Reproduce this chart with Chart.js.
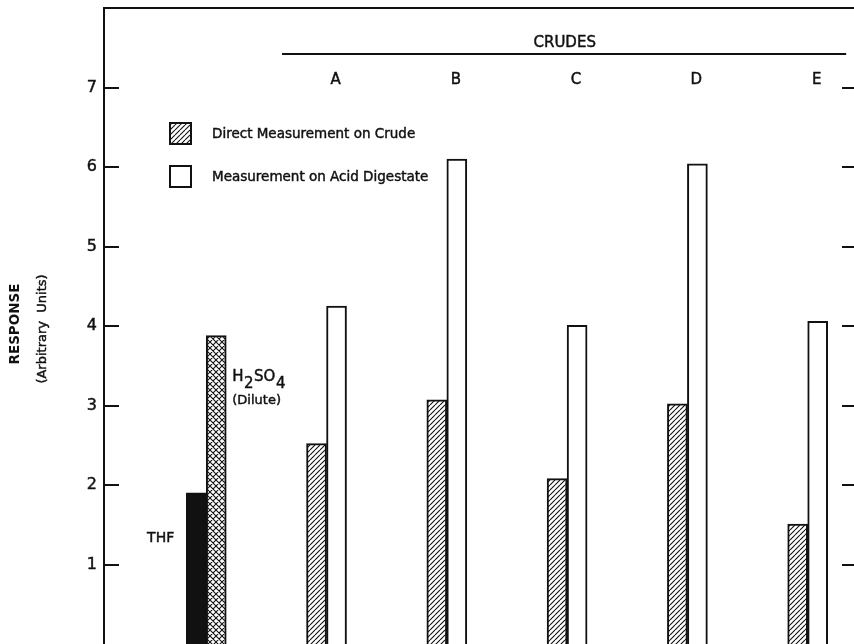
<!DOCTYPE html>
<html>
<head>
<meta charset="utf-8">
<script src="https://cdn.jsdelivr.net/npm/chart.js@4.4.1/dist/chart.umd.min.js"></script>
<style>
  html, body { margin: 0; padding: 0; background: #fff; overflow: hidden; }
  #wrap { width: 870px; height: 644px; }
</style>
</head>
<body>
<div id="wrap"><canvas id="chart" width="870" height="644"></canvas></div>
<script>
// Reference solvents (left pair) and the five crudes
const solvents = ['THF', 'H2SO4'];
const solventResponse = [1.90, 3.88];
const crudes = ['A', 'B', 'C', 'D', 'E'];
const directCrude = [2.52, 3.07, 2.08, 3.02, 1.51];
const acidDigestate = [4.25, 6.10, 4.01, 6.04, 4.06];
const yTickValues = [1, 2, 3, 4, 5, 6, 7];
const legendLabels = ['Direct Measurement on Crude', 'Measurement on Acid Digestate'];
const groupTitle = 'CRUDES';

const INK = '#111';
const FONT = 'DejaVu Sans';
const TEXT_STROKE = 0.45;

// group positions on the x axis: solvent pair at 0, crudes at 1..5
const groupX = [0].concat(crudes.map((_, i) => i + 1));

function series(fn) {
  return groupX.map((x, j) => ({ x: x, y: fn(j) }));
}

function makePattern(cross) {
  const p = cross ? 6 : 5;
  const c = document.createElement('canvas');
  c.width = p; c.height = p;
  const g = c.getContext('2d');
  g.fillStyle = '#fff';
  g.fillRect(0, 0, p, p);
  g.strokeStyle = INK;
  g.lineWidth = 1.1;
  g.beginPath();
  for (const o of [-p, 0, p]) { g.moveTo(o, p); g.lineTo(o + p, 0); }
  if (cross) {
    for (const o of [-p, 0, p]) { g.moveTo(o, 0); g.lineTo(o + p, p); }
  }
  g.stroke();
  return g.createPattern(c, 'repeat');
}

const hatch = makePattern(false);
const crossHatch = makePattern(true);

// filled text with a hairline outline for a slightly heavier stroke
function ink(ctx, s, x, y) {
  ctx.fillText(s, x, y);
  ctx.save();
  ctx.lineWidth = TEXT_STROKE;
  ctx.strokeText(s, x, y);
  ctx.restore();
}

const decor = {
  id: 'decor',
  afterDraw(chart) {
    const { ctx, chartArea: a, scales } = chart;
    const xs = scales.x, ys = scales.y;
    ctx.save();
    ctx.strokeStyle = INK;
    ctx.fillStyle = INK;

    // top frame line
    ctx.lineWidth = 2;
    ctx.beginPath();
    ctx.moveTo(a.left - 1, a.top);
    ctx.lineTo(chart.width, a.top);
    ctx.stroke();

    // inward tick marks on both vertical axes
    ys.ticks.forEach(t => {
      if (!yTickValues.includes(t.value)) return;
      const y = Math.round(ys.getPixelForValue(t.value));
      ctx.beginPath();
      ctx.moveTo(a.left, y); ctx.lineTo(a.left + 15, y);
      ctx.moveTo(a.right - 15, y); ctx.lineTo(a.right, y);
      ctx.stroke();
    });

    // bracket over the crudes
    const by = a.top + 46;
    ctx.beginPath();
    ctx.moveTo(xs.getPixelForValue(0.63), by);
    ctx.lineTo(xs.getPixelForValue(5.32), by);
    ctx.stroke();
    ctx.textAlign = 'center';
    ctx.textBaseline = 'middle';
    ctx.font = '15px "' + FONT + '"';
    ink(ctx, groupTitle, xs.getPixelForValue(2.98), a.top + 35);
    crudes.forEach((c, i) => {
      ink(ctx, c, xs.getPixelForValue(groupX[i + 1]) + 9, a.top + 72);
    });

    // legend
    const lx = a.left + 66, ly = a.top + 115;
    const swatches = [hatch, '#fff'];
    ctx.font = '13.5px "' + FONT + '"';
    ctx.textAlign = 'left';
    legendLabels.forEach((lab, i) => {
      const y = ly + i * 43;
      ctx.fillStyle = swatches[i];
      ctx.fillRect(lx, y, 21, 21);
      ctx.lineWidth = 2;
      ctx.strokeRect(lx, y, 21, 21);
      ctx.fillStyle = INK;
      ink(ctx, lab, lx + 42, y + 11);
    });

    // solvent labels beside their bars
    const thfBar = chart.getDatasetMeta(0).data[0];
    const acidBar = chart.getDatasetMeta(1).data[0];
    ctx.font = '14px "' + FONT + '"';
    ctx.textAlign = 'right';
    ink(ctx, solvents[0], thfBar.x - thfBar.width / 2 - 12,
      ys.getPixelForValue(solventResponse[0] * 0.7));

    ctx.textAlign = 'left';
    ctx.font = '15px "' + FONT + '"';
    let x = acidBar.x + acidBar.width / 2 + 6;
    const hy = ys.getPixelForValue(solventResponse[1] * 0.865);
    // H2SO4 written with lowered digits
    const parts = [['H', 0], ['2', 7], ['SO', 0], ['4', 7]];
    parts.forEach(([s, dy]) => {
      ink(ctx, s, x, hy + dy);
      x += ctx.measureText(s).width + 0.5;
    });
    ctx.font = '13px "' + FONT + '"';
    ink(ctx, '(Dilute)', acidBar.x + acidBar.width / 2 + 6, hy + 23);

    // vertical axis title
    const cy = (a.top + a.bottom) / 2;
    ctx.textAlign = 'center';
    ctx.save();
    ctx.translate(15, cy - 2);
    ctx.rotate(-Math.PI / 2);
    ctx.font = 'bold 13.5px "' + FONT + '"';
    ctx.fillText('RESPONSE', 0, 0);
    ctx.restore();
    ctx.save();
    ctx.translate(43, cy + 3);
    ctx.rotate(-Math.PI / 2);
    ctx.font = '13px "' + FONT + '"';
    ink(ctx, '(Arbitrary  Units)', 0, 0);
    ctx.restore();

    ctx.restore();
  }
};

new Chart(document.getElementById('chart').getContext('2d'), {
  type: 'bar',
  data: {
    datasets: [
      { label: solvents[0], data: series(j => j === 0 ? solventResponse[0] : null),
        backgroundColor: INK, borderColor: INK, borderWidth: 2 },
      { label: solvents[1], data: series(j => j === 0 ? solventResponse[1] : null),
        backgroundColor: crossHatch, borderColor: INK, borderWidth: 2 },
      { label: legendLabels[0], data: series(j => j === 0 ? null : directCrude[j - 1]),
        backgroundColor: hatch, borderColor: INK, borderWidth: 2 },
      { label: legendLabels[1], data: series(j => j === 0 ? null : acidDigestate[j - 1]),
        backgroundColor: '#fff', borderColor: INK, borderWidth: 2 }
    ]
  },
  options: {
    responsive: false,
    animation: false,
    devicePixelRatio: 1,
    layout: { padding: { top: 8, left: 0, right: 0, bottom: 0 } },
    datasets: { bar: { skipNull: true, barThickness: 20, grouped: true } },
    plugins: { legend: { display: false }, tooltip: { enabled: false } },
    scales: {
      x: {
        type: 'linear', display: false, offset: false, min: -0.85, max: 5.41,
        grid: { offset: false },
        ticks: { stepSize: 1, includeBounds: false }
      },
      y: {
        position: 'left', min: 0, max: 8,
        ticks: {
          stepSize: 1, padding: 7, color: INK,
          textStrokeColor: INK, textStrokeWidth: TEXT_STROKE,
          font: { family: FONT, size: 16 },
          callback: v => yTickValues.includes(v) ? String(v) : null
        },
        grid: { display: false, drawTicks: false },
        border: { display: true, color: INK, width: 2 },
        afterFit(s) { s.width = 104; s.paddingTop = 0; s.paddingBottom = 0; }
      },
      y2: {
        position: 'right', min: 0, max: 8,
        ticks: { display: false, stepSize: 1 },
        grid: { display: false, drawTicks: false },
        border: { display: true, color: INK, width: 2 },
        afterFit(s) { s.width = 13; s.paddingTop = 0; s.paddingBottom = 0; }
      }
    }
  },
  plugins: [decor]
});
</script>
</body>
</html>
